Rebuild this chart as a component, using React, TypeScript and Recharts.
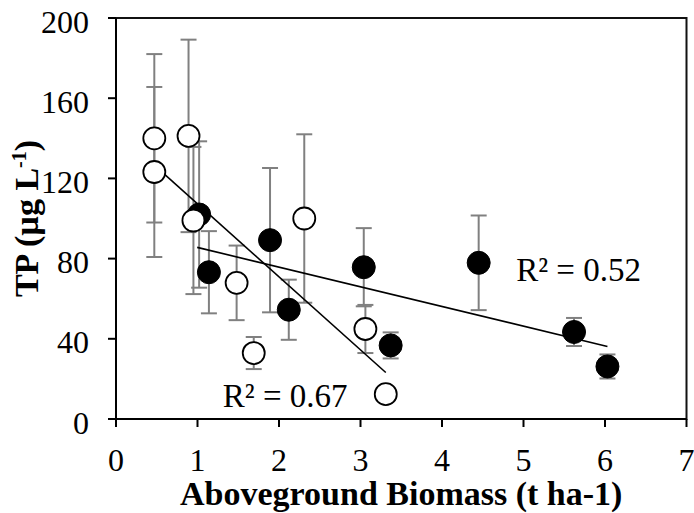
import React from 'react';
import {
  ScatterChart,
  Scatter,
  XAxis,
  YAxis,
  ErrorBar,
  ReferenceLine,
  ReferenceArea,
  ReferenceDot,
} from 'recharts';

const xTicks = [0, 1, 2, 3, 4, 5, 6, 7];
const yTicks = [0, 40, 80, 120, 160, 200];

const filledX = [1.02, 1.14, 1.89, 2.12, 3.04, 3.37, 4.45, 5.62, 6.03];
const filledY = [102, 73.2, 89.2, 54.5, 75.7, 36.7, 77.9, 43.4, 26.2];
const filledErr = [36.5, 20.5, 36, 15, 19.5, 6.5, 23.6, 7, 6];

const openX = [0.47, 0.47, 0.89, 0.95, 1.48, 1.69, 2.31, 3.06, 3.31];
const openY = [140, 123.2, 141.2, 99, 67.9, 32.9, 100, 44.9, 12.4];
const openErr = [42, 42.4, 48, 36.7, 18.6, 8, 42, 12, 0];

const filledFit = [
  { x: 0.996, y: 85.6 },
  { x: 6.03, y: 36.2 },
];
const openFit = [
  { x: 0.47, y: 126.6 },
  { x: 3.31, y: 23.2 },
];

const r2Labels = [
  { x: 4.91, y: 69, text: 'R\u00B2 = 0.52' },
  { x: 1.31, y: 5.8, text: 'R\u00B2 = 0.67' },
];

const xTitle = 'Aboveground Biomass (t ha-1)';
const yTitleMain = 'TP (\u00B5g L';
const yTitleSup = '-1';
const yTitleEnd = ')';

const FONT = '"Liberation Serif", "Times New Roman", serif';

const filledData = filledX.map((x, i) => ({ x, y: filledY[i], err: filledErr[i] }));
const openData = openX.map((x, i) => ({ x, y: openY[i], err: openErr[i] }));

const XTick = (props: any) => {
  const { x, y, payload } = props;
  return (
    <text x={x} y={y + 44} textAnchor="middle" fontFamily={FONT} fontSize={32} fill="#000">
      {payload.value}
    </text>
  );
};

const YTick = (props: any) => {
  const { x, y, payload } = props;
  return (
    <text x={x} y={y + 14.5} textAnchor="end" fontFamily={FONT} fontSize={32} fill="#000">
      {payload.value}
    </text>
  );
};

const XTitle = (props: any) => {
  const vb = props.viewBox || { x: 116, y: 419, width: 570, height: 94 };
  return (
    <text
      x={vb.x + vb.width / 2}
      y={vb.y + vb.height - 8}
      textAnchor="middle"
      fontFamily={FONT}
      fontWeight="bold"
      fontSize={34}
      fill="#000"
    >
      {xTitle}
    </text>
  );
};

const YTitle = (props: any) => {
  const vb = props.viewBox || { x: 0, y: 18, width: 116, height: 401 };
  const cx = 38;
  const cy = vb.y + vb.height / 2;
  return (
    <text
      transform={`translate(${cx},${cy}) rotate(-90)`}
      x={0}
      y={0}
      textAnchor="middle"
      fontFamily={FONT}
      fontWeight="bold"
      fontSize={34}
      fill="#000"
    >
      {yTitleMain}
      <tspan fontSize={20} dy={-12}>
        {yTitleSup}
      </tspan>
      <tspan dy={12}>{yTitleEnd}</tspan>
    </text>
  );
};

const R2Label = (text: string) => (props: any) => {
  const vb = props.viewBox || { x: 0, y: 0, width: 0, height: 0 };
  return (
    <text
      x={vb.x + (vb.width || 0) / 2}
      y={vb.y + (vb.height || 0) / 2}
      textAnchor="start"
      fontFamily={FONT}
      fontSize={33}
      fill="#000"
    >
      {text}
    </text>
  );
};

const FilledDot = (props: any) => (
  <circle cx={props.cx} cy={props.cy} r={11.5} fill="#000" stroke="#000" strokeWidth={1} />
);
const OpenDot = (props: any) => (
  <circle cx={props.cx} cy={props.cy} r={11} fill="#fff" stroke="#000" strokeWidth={1.8} />
);
const NoDot = () => <g />;

export default function App() {
  return (
    <div style={{ position: 'absolute', left: 0, top: 0, background: '#fff' }}>
      <ScatterChart
        width={694}
        height={513}
        margin={{ top: 18, right: 7.5, bottom: 0, left: 0 }}
      >
        <XAxis
          type="number"
          dataKey="x"
          domain={[0, 7]}
          ticks={xTicks}
          interval={0}
          height={94}
          tickSize={8}
          tickMargin={0}
          axisLine={{ stroke: '#000', strokeWidth: 2 }}
          tickLine={{ stroke: '#000', strokeWidth: 2 }}
          tick={<XTick />}
          label={{ content: XTitle } as any}
        />
        <YAxis
          type="number"
          dataKey="y"
          domain={[0, 200]}
          ticks={yTicks}
          interval={0}
          width={116}
          tickSize={8}
          tickMargin={19}
          axisLine={{ stroke: '#000', strokeWidth: 2 }}
          tickLine={{ stroke: '#000', strokeWidth: 2 }}
          tick={<YTick />}
          label={{ content: YTitle } as any}
        />
        <ReferenceArea
          x1={0}
          x2={7}
          y1={0}
          y2={200}
          fill="none"
          fillOpacity={0}
          stroke="#111"
          strokeWidth={2}
        />
        <Scatter data={filledData} shape={NoDot} isAnimationActive={false}>
          <ErrorBar dataKey="err" direction="y" width={8} stroke="#808080" strokeWidth={2} />
        </Scatter>
        <Scatter data={openData} shape={NoDot} isAnimationActive={false}>
          <ErrorBar dataKey="err" direction="y" width={8} stroke="#808080" strokeWidth={2} />
        </Scatter>
        <Scatter data={filledData} shape={FilledDot} isAnimationActive={false} />
        <Scatter data={openData} shape={OpenDot} isAnimationActive={false} />
        <ReferenceLine
          segment={filledFit as any}
          stroke="#000"
          strokeWidth={1.6}
        />
        <ReferenceLine
          segment={openFit as any}
          stroke="#000"
          strokeWidth={1.6}
        />
        {r2Labels.map((l) => (
          <ReferenceDot
            key={l.text}
            x={l.x}
            y={l.y}
            r={0.1}
            fill="none"
            stroke="none"
            label={{ content: R2Label(l.text) } as any}
          />
        ))}
      </ScatterChart>
    </div>
  );
}
